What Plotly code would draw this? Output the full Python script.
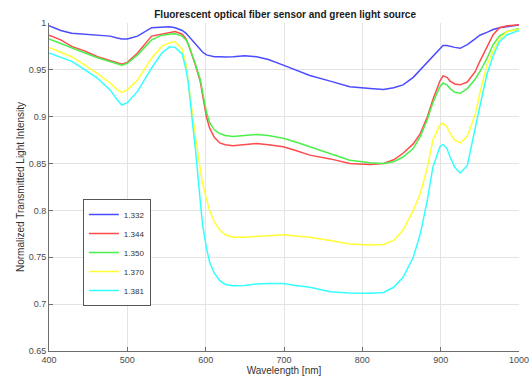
import plotly.graph_objects as go

wavelength = [400, 415, 429, 446, 462, 478, 487, 493, 500, 513, 531, 544, 554, 561, 570, 575, 578, 583, 587,
              593, 596, 601, 605, 611, 618, 625, 635, 650, 665, 680, 699, 715, 733, 759, 784, 810, 827, 840,
              852, 865, 874, 883, 890, 899, 903, 908, 912, 918, 925, 934, 944, 950, 959, 967, 975, 985, 1000]

ri_1332 = [0.997, 0.992, 0.989, 0.988, 0.987, 0.986, 0.984, 0.983, 0.983, 0.986, 0.995, 0.996, 0.996, 0.995,
           0.992, 0.989, 0.986, 0.982, 0.978, 0.972, 0.969, 0.966, 0.965, 0.964, 0.964, 0.9636, 0.964, 0.965,
           0.964, 0.961, 0.955, 0.950, 0.944, 0.938, 0.932, 0.930, 0.929, 0.931, 0.934, 0.942, 0.950, 0.958,
           0.965, 0.973, 0.976, 0.976, 0.975, 0.974, 0.973, 0.977, 0.983, 0.987, 0.990, 0.993, 0.995, 0.996,
           0.998]

ri_1344 = [0.987, 0.982, 0.975, 0.970, 0.964, 0.960, 0.957, 0.956, 0.958, 0.968, 0.986, 0.9885, 0.990, 0.991,
           0.988, 0.983, 0.977, 0.965, 0.955, 0.938, 0.925, 0.900, 0.888, 0.878, 0.872, 0.870, 0.869, 0.870,
           0.8715, 0.870, 0.868, 0.864, 0.859, 0.855, 0.850, 0.849, 0.850, 0.854, 0.861, 0.871, 0.882, 0.900,
           0.918, 0.938, 0.9436, 0.942, 0.938, 0.935, 0.934, 0.937, 0.948, 0.959, 0.975, 0.9875, 0.995, 0.997,
           0.998]

ri_1350 = [0.983, 0.978, 0.973, 0.968, 0.963, 0.959, 0.956, 0.955, 0.957, 0.966, 0.982, 0.987, 0.988, 0.9885,
           0.986, 0.982, 0.977, 0.966, 0.956, 0.940, 0.928, 0.905, 0.894, 0.886, 0.882, 0.880, 0.879, 0.880,
           0.881, 0.880, 0.877, 0.873, 0.868, 0.861, 0.8536, 0.851, 0.850, 0.852, 0.857, 0.866, 0.879, 0.897,
           0.915, 0.932, 0.936, 0.934, 0.930, 0.926, 0.925, 0.930, 0.940, 0.948, 0.962, 0.977, 0.986, 0.991,
           0.994]

ri_1370 = [0.974, 0.969, 0.964, 0.955, 0.946, 0.936, 0.929, 0.926, 0.9286, 0.939, 0.9625, 0.975, 0.979, 0.980,
           0.972, 0.955, 0.935, 0.905, 0.878, 0.845, 0.829, 0.812, 0.800, 0.788, 0.779, 0.774, 0.7715, 0.7715,
           0.772, 0.773, 0.774, 0.773, 0.7715, 0.768, 0.7643, 0.763, 0.7636, 0.768, 0.779, 0.800, 0.818, 0.846,
           0.875, 0.891, 0.893, 0.889, 0.882, 0.875, 0.872, 0.879, 0.902, 0.925, 0.955, 0.970, 0.983, 0.991,
           0.993]

ri_1381 = [0.968, 0.963, 0.959, 0.950, 0.941, 0.9286, 0.918, 0.9125, 0.915, 0.927, 0.952, 0.968, 0.9746, 0.974,
           0.967, 0.950, 0.935, 0.895, 0.865, 0.811, 0.785, 0.760, 0.745, 0.733, 0.725, 0.721, 0.7197, 0.720,
           0.7215, 0.722, 0.722, 0.720, 0.718, 0.7133, 0.712, 0.7115, 0.7125, 0.718, 0.7286, 0.750, 0.775, 0.811,
           0.846, 0.868, 0.8704, 0.866, 0.857, 0.846, 0.840, 0.848, 0.889, 0.911, 0.945, 0.965, 0.980, 0.9875,
           0.992]

series_names = ["1.332", "1.344", "1.350", "1.370", "1.381"]
series_values = [ri_1332, ri_1344, ri_1350, ri_1370, ri_1381]
series_colors = ["#4b4bff", "#ff4b4b", "#4bef4b", "#ffff33", "#33ffff"]

x_ticks = [400, 500, 600, 700, 800, 900, 1000]
y_ticks = [0.65, 0.7, 0.75, 0.8, 0.85, 0.9, 0.95, 1]

font_family = "Liberation Sans, Arial, Helvetica, sans-serif"

fig = go.Figure()
for name, vals, col in zip(series_names, series_values, series_colors):
    fig.add_trace(go.Scatter(x=wavelength, y=vals, mode="lines", name=name,
                             line=dict(color=col, width=1.5)))

axis_common = dict(
    showline=True, linecolor="#6e6e6e", linewidth=1, mirror=False,
    ticks="inside", ticklen=4, tickcolor="#6e6e6e", tickwidth=1,
    showgrid=True, gridcolor="#e3e3e3", gridwidth=1, zeroline=False,
    tickfont=dict(family=font_family, size=9, color="#4a4a4a"),
)

fig.update_layout(
    width=530, height=376,
    margin=dict(l=49, r=11, t=23, b=25),
    paper_bgcolor="white", plot_bgcolor="white",
    font=dict(family=font_family, color="#333333"),
    title=dict(text="<b>Fluorescent optical fiber sensor and green light source</b>",
               x=0.538, xanchor="center", y=0.962, yanchor="middle",
               font=dict(family=font_family, size=10, color="#1a1a1a")),
    xaxis=dict(range=[400, 1000], tickvals=x_ticks,
               title=dict(text="Wavelength [nm]", standoff=4,
                          font=dict(family=font_family, size=10, color="#333333")),
               automargin=False, **axis_common),
    yaxis=dict(range=[0.65, 1], tickvals=y_ticks,
               title=dict(text="Normalized Transmitted Light Intensity", standoff=2,
                          font=dict(family=font_family, size=10, color="#333333")),
               automargin=False, **axis_common),
    legend=dict(x=0.072, y=0.30, xanchor="left", yanchor="middle",
                bgcolor="white", bordercolor="#555555", borderwidth=1,
                font=dict(family=font_family, size=8, color="#333333"),
                tracegroupgap=0, itemwidth=30),
    showlegend=True,
)

fig.write_html("out.html")
